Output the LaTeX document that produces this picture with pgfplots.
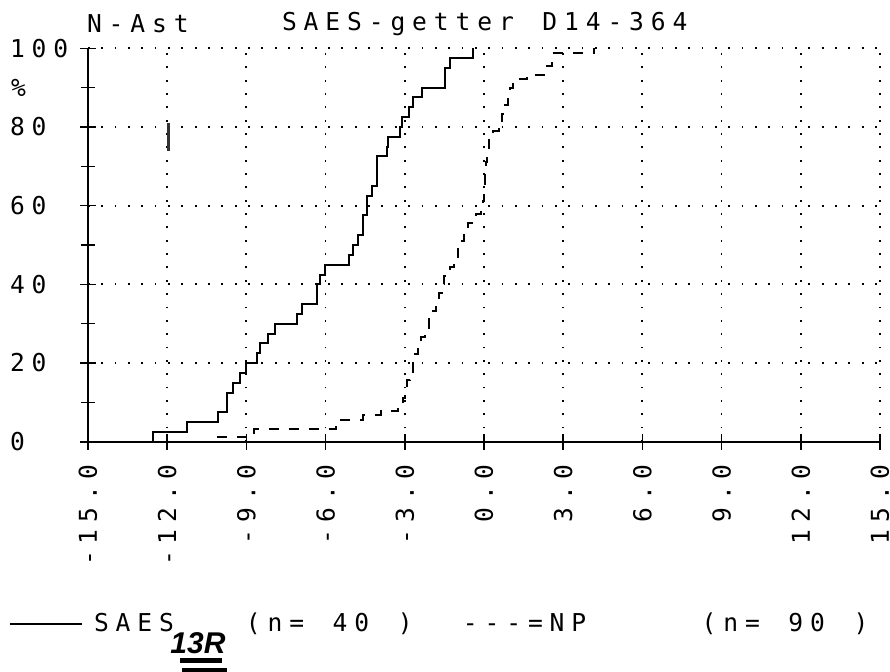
\documentclass[border=0pt]{standalone}
\usepackage{fontspec}
\usepackage{pgfplots}
\pgfplotsset{compat=1.18}
\newfontfamily\plotter{DejaVu Sans Mono}
\newfontfamily\hand{Liberation Sans}
\newcommand\plotfont{\plotter\fontsize{12.3}{14}\selectfont}
% plotter text: every character in a cell of fixed width
\makeatletter
\newcommand\ls[1]{\@ls#1\@nil}
\def\@ls#1{\ifx#1\@nil\else\makebox[10.85pt]{#1}\expandafter\@ls\fi}
\makeatother

\pgfplotstableread{
x y
-12.53 0
-12.53 2.5
-11.26 5
-10.06 7.5
-9.72 12.5
-9.52 15
-9.24 17.5
-9.02 20
-8.61 22.5
-8.48 25
-8.17 27.5
-7.92 30
-7.10 32.5
-6.91 35
-6.34 40
-6.21 42.5
-6.02 45
-5.10 47.5
-4.97 50
-4.76 52.5
-4.57 57.5
-4.44 62.5
-4.25 65
-4.06 72.5
-3.69 75
-3.62 77.5
-3.18 80
-3.12 82.5
-2.83 85
-2.68 87.5
-2.36 90
-1.48 95
-1.29 97.5
-0.40 100
}\saes

\pgfplotstableread{
x y
-10.10 1.11
-9.02 2.22
-8.70 3.33
-5.60 5.56
-4.60 6.67
-3.90 7.78
-3.25 8.89
-3.15 10.0
-3.05 11.1
-2.98 13.3
-2.90 15.6
-2.80 17.8
-2.70 20.0
-2.60 22.2
-2.50 24.4
-2.40 26.7
-2.25 28.9
-2.10 31.1
-1.95 33.3
-1.80 35.6
-1.70 37.8
-1.60 40.0
-1.50 42.2
-1.30 44.4
-1.15 46.7
-1.00 48.9
-0.90 51.1
-0.75 53.3
-0.60 55.6
-0.30 57.8
-0.10 58.9
-0.05 61.1
0.00 64.4
0.03 67.8
0.06 71.1
0.10 74.4
0.18 77.8
0.35 78.9
0.55 81.1
0.70 83.3
0.80 85.6
0.90 87.8
1.00 90.0
1.11 92.2
1.62 93.3
2.38 95.6
2.56 98.9
4.15 100
}\np

\begin{document}
\begin{tikzpicture}
\begin{axis}[
  scale only axis,
  width=396pt, height=196.7pt,
  xmin=-15, xmax=15, ymin=0, ymax=100,
  axis x line=bottom, axis y line=left,
  axis line style={-, line width=1pt},
  xtick={-15,-12,...,15},
  xticklabels={\ls{-15.0},\ls{-12.0},\ls{-9.0},\ls{-6.0},\ls{-3.0},\ls{0.0},
    \ls{3.0},\ls{6.0},\ls{9.0},\ls{12.0},\ls{15.0}},
  ytick={0,20,...,100},
  yticklabels={\ls{0},\ls{20},\ls{40},\ls{60},\ls{80},\ls{100}},
  minor ytick={10,30,50,70},
  extra y ticks={90},
  extra y tick labels={\makebox[10.85pt]{\%}},
  extra y tick style={grid=none, major tick length=7pt},
  tick align=center,
  major tick length=8pt, minor tick length=7pt,
  tick style={black, line width=0.8pt},
  grid=major,
  major grid style={black, line width=0.9pt, dash pattern=on 0.9pt off 5.77pt},
  xticklabel style={font=\plotfont, rotate=90, anchor=east, inner sep=0pt},
  xticklabel shift=5.4pt,
  yticklabel style={font=\plotfont, anchor=west, inner sep=0pt, xshift=-36.9pt},
  clip=false,
]
\addplot[black, line width=1pt, const plot] table {\saes};
\addplot[black, line width=1pt, const plot, dash pattern=on 5pt off 5pt] table {\np};
\draw[black!80, line width=1.5pt] (axis cs:-11.95,81) -- (axis cs:-11.95,74);
\end{axis}
\node[font=\plotfont, anchor=west, inner sep=0pt] at (-2.4pt,208.9pt) {\ls{N-Ast}};
\node[font=\plotfont, anchor=west, inner sep=0pt] at (95.1pt,208.9pt) {\ls{SAES-getter~D14-364}};
\draw[black, line width=1pt] (-39pt,-90.9pt) -- (-3pt,-90.9pt);
\node[font=\plotfont, anchor=west, inner sep=0pt] at (1.1pt,-90.9pt)
  {\ls{SAES~~~(n=~40~)~~---=NP~~~~~(n=~90~)}};
\node[font=\hand\fontsize{15}{16}\selectfont\bfseries\itshape, inner sep=0pt] at (55pt,-100.6pt) {13R};
\draw[black, line width=2.5pt] (46pt,-109.4pt) -- (67pt,-109.4pt);
\draw[black, line width=2pt] (47pt,-114.2pt) -- (69.5pt,-114.2pt);
\pgfresetboundingbox
\path[use as bounding box] (-44pt,-114.65pt) rectangle (401pt,220.85pt);
\end{tikzpicture}
\end{document}
